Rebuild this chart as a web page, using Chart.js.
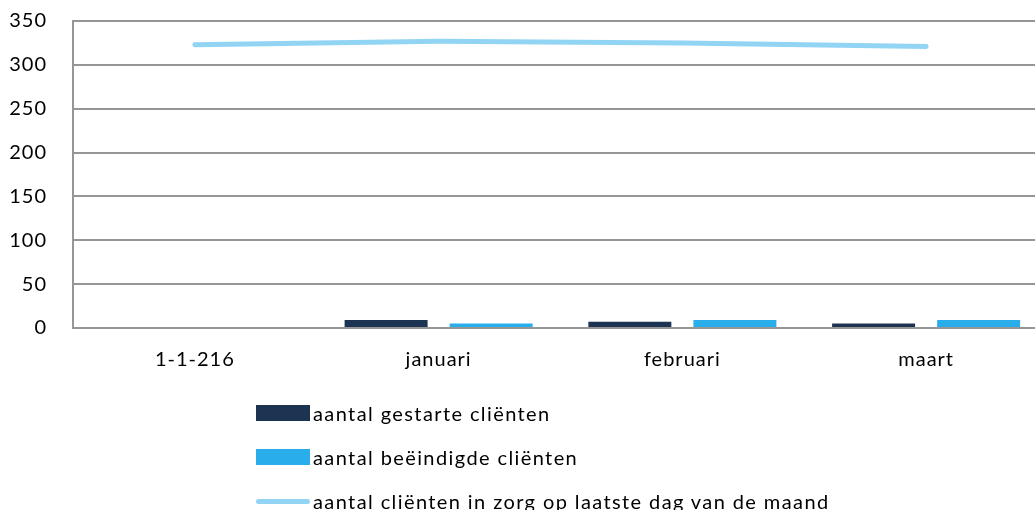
<!DOCTYPE html>
<html>
<head>
<meta charset="utf-8">
<script src="https://cdn.jsdelivr.net/npm/chart.js@4/dist/chart.umd.min.js"></script>
<style>
  html, body { margin: 0; padding: 0; background: #fff; overflow: hidden; }
  #wrap { position: relative; width: 1035px; height: 510px; overflow: hidden; }
  #chartBox { position: absolute; left: 0; top: -17px; width: 1048px; height: 527px; }
  #legend { position: absolute; left: 256px; top: 402px; font-family: Lato, "Open Sans", sans-serif; font-size: 20px; letter-spacing: 1.4px; color: #000; }
  .item { display: flex; align-items: center; height: 22px; margin-bottom: 22px; }
  .swatch { width: 54px; margin-right: 3px; }
</style>
</head>
<body>
<div id="wrap">
  <div id="chartBox"><canvas id="chart"></canvas></div>
  <div id="legend"></div>
</div>
<script>
// chart data
const categories = ["1-1-216", "januari", "februari", "maart"];
const seriesNames = ["aantal gestarte cliënten", "aantal beëindigde cliënten", "aantal cliënten in zorg op laatste dag van de maand"];
const gestart = [null, 9, 7, 5];
const beeindigd = [null, 5, 9, 9];
const inZorg = [323, 327, 325, 321];
const yTicks = [0, 50, 100, 150, 200, 250, 300, 350];

const colors = ["#1c3352", "#2aadeb", "#92d4f4"];

// wider letter spacing on the canvas text, like the original rendering
const spacing = {
  id: "spacing",
  beforeDraw: (chart) => { chart.ctx.letterSpacing = "1px"; }
};

const ctx = document.getElementById("chart").getContext("2d");
const chart = new Chart(ctx, {
  type: "bar",
  data: {
    labels: categories,
    datasets: [
      { label: seriesNames[0], data: gestart, backgroundColor: colors[0], order: 2 },
      { label: seriesNames[1], data: beeindigd, backgroundColor: colors[1], order: 3 },
      {
        type: "line", label: seriesNames[2], data: inZorg,
        borderColor: colors[2], borderWidth: 5, borderCapStyle: "round",
        pointRadius: 0, fill: false, tension: 0, order: 1
      }
    ]
  },
  plugins: [spacing],
  options: {
    responsive: true,
    maintainAspectRatio: false,
    animation: false,
    categoryPercentage: 0.862,
    barPercentage: 0.79,
    layout: { padding: { top: -4, right: 0, bottom: 118, left: 0 } },
    plugins: {
      legend: { display: false },
      tooltip: { enabled: false }
    },
    scales: {
      x: {
        grid: { display: false, drawTicks: false },
        border: { display: false },
        ticks: { color: "#000", padding: 20, font: { family: "Lato", size: 20 } }
      },
      y: {
        min: 0,
        max: 350,
        afterFit: (scale) => { scale.width = 73; },
        afterBuildTicks: (scale) => { scale.ticks = yTicks.map(v => ({ value: v })); },
        grid: { color: "#969696", lineWidth: 2, drawTicks: false },
        border: { color: "#969696", width: 2 },
        ticks: { color: "#000", padding: 26, font: { family: "Lato", size: 20 } }
      }
    }
  }
});

// vertical legend under the chart, built from the datasets
const legend = document.getElementById("legend");
chart.data.datasets.forEach((ds) => {
  const item = document.createElement("div");
  item.className = "item";
  const sw = document.createElement("span");
  sw.className = "swatch";
  if (ds.type === "line") {
    sw.style.height = "5px";
    sw.style.borderRadius = "3px";
    sw.style.background = ds.borderColor;
  } else {
    sw.style.height = "16px";
    sw.style.background = ds.backgroundColor;
  }
  const txt = document.createElement("span");
  txt.textContent = ds.label;
  item.appendChild(sw);
  item.appendChild(txt);
  legend.appendChild(item);
});
</script>
</body>
</html>
